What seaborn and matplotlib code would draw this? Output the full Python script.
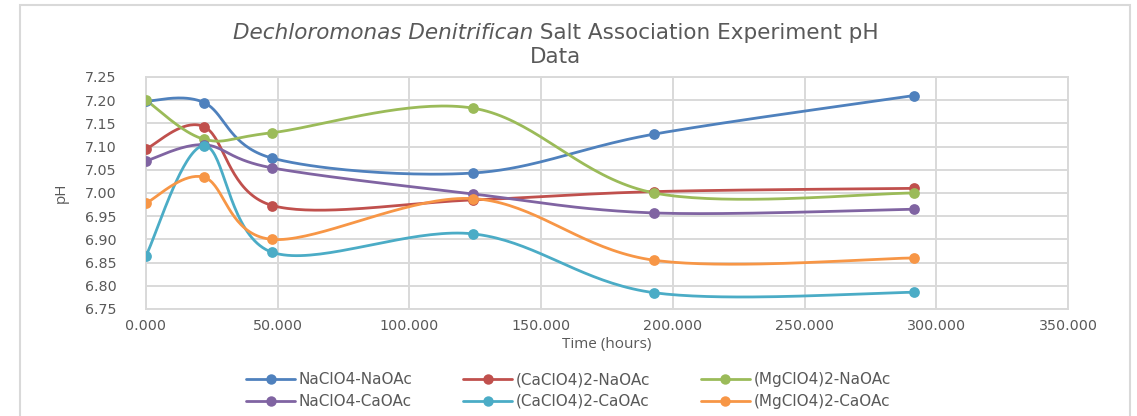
import numpy as np
import pandas as pd
import matplotlib
matplotlib.use("Agg")
import matplotlib.pyplot as plt
import seaborn as sns
from matplotlib.patches import Rectangle

# ---- data ----
time_hours = [0.0, 22.0, 48.0, 124.0, 193.0, 291.5]
series_names = ["NaClO4-NaOAc", "(CaClO4)2-NaOAc", "(MgClO4)2-NaOAc",
                "NaClO4-CaOAc", "(CaClO4)2-CaOAc", "(MgClO4)2-CaOAc"]
ph_naclo4_naoac = [7.198, 7.195, 7.075, 7.043, 7.127, 7.210]
ph_caclo4_naoac = [7.095, 7.143, 6.973, 6.985, 7.003, 7.010]
ph_mgclo4_naoac = [7.200, 7.116, 7.130, 7.183, 7.000, 7.000]
ph_naclo4_caoac = [7.069, 7.104, 7.054, 6.998, 6.957, 6.965]
ph_caclo4_caoac = [6.865, 7.102, 6.872, 6.912, 6.785, 6.786]
ph_mgclo4_caoac = [6.978, 7.034, 6.900, 6.988, 6.855, 6.860]
all_values = [ph_naclo4_naoac, ph_caclo4_naoac, ph_mgclo4_naoac,
              ph_naclo4_caoac, ph_caclo4_caoac, ph_mgclo4_caoac]
colors = ["#4F81BD", "#C0504D", "#9BBB59", "#8064A2", "#4BACC6", "#F79646"]
x_ticks = [0, 50, 100, 150, 200, 250, 300, 350]
y_ticks = [6.75, 6.80, 6.85, 6.90, 6.95, 7.00, 7.05, 7.10, 7.15, 7.20, 7.25]


def smooth(xs, ys, n=40):
    """Excel-like smoothed line: cubic Bezier segments with Catmull-Rom control points."""
    P = np.column_stack([xs, ys]).astype(float)
    Pext = np.vstack([P[0], P, P[-1]])
    out = []
    t = np.linspace(0, 1, n)[:, None]
    for i in range(len(P) - 1):
        p0, p1, p2, p3 = Pext[i], Pext[i + 1], Pext[i + 2], Pext[i + 3]
        c1 = p1 + (p2 - p0) / 6.0
        c2 = p2 - (p3 - p1) / 6.0
        seg = ((1 - t) ** 3) * p1 + 3 * ((1 - t) ** 2) * t * c1 + 3 * (1 - t) * t ** 2 * c2 + t ** 3 * p2
        out.append(seg if i == 0 else seg[1:])
    arr = np.vstack(out)
    return arr[:, 0], arr[:, 1]


sns.set_theme(style="white")
plt.rcParams["font.family"] = ["DejaVu Sans"]

W, H = 1137, 416
fig = plt.figure(figsize=(W / 100, H / 100), dpi=100)
ax = fig.add_axes([146 / W, 1 - 309 / H, (1068 - 146) / W, (309 - 77) / H])

gray_txt = "#595959"
grid_c = "#d9d9d9"

handles = []
for name, vals, c in zip(series_names, all_values, colors):
    sx, sy = smooth(time_hours, vals)
    df_line = pd.DataFrame({"x": sx, "y": sy})
    sns.lineplot(data=df_line, x="x", y="y", sort=False, color=c, linewidth=2.0, ax=ax,
                 estimator=None, zorder=3)
    df_pts = pd.DataFrame({"x": time_hours, "y": vals})
    sns.scatterplot(data=df_pts, x="x", y="y", color=c, s=60, edgecolor=c, linewidth=0, ax=ax, zorder=4)
    handles.append(plt.Line2D([0], [0], color=c, lw=2.0, marker="o", markersize=7.5,
                              markeredgewidth=0, label=name))

ax.set_xlim(0, 350)
ax.set_ylim(6.75, 7.25)
ax.set_xticks(x_ticks)
ax.set_xticklabels([f"{v:.3f}" for v in x_ticks])
ax.set_yticks(y_ticks)
ax.set_yticklabels([f"{v:.2f}" for v in y_ticks])
ax.tick_params(axis="both", length=0, labelsize=10.3, labelcolor=gray_txt)
ax.tick_params(axis="x", pad=7)
ax.tick_params(axis="y", pad=21)
ax.grid(True, color=grid_c, linewidth=1.4)
ax.set_axisbelow(True)
for s in ax.spines.values():
    s.set_color(grid_c)
    s.set_linewidth(1.4)

ax.set_xlabel("Time (hours)", fontsize=11, color=gray_txt, family="Open Sans", labelpad=3)
ax.set_ylabel("pH", fontsize=11, color=gray_txt, family="Open Sans", labelpad=12)

# Legend (row-wise order: 3 columns x 2 rows)
order = [0, 3, 1, 4, 2, 5]
leg = fig.legend(handles=[handles[i] for i in order], loc="upper left",
                 bbox_to_anchor=(240 / W, 1 - 366 / H),
                 ncol=3, frameon=False, fontsize=11, handlelength=3.2, handletextpad=0.25,
                 columnspacing=3.3, labelspacing=0.45, labelcolor=gray_txt,
                 borderaxespad=0)

# Title: italic part + normal part, centered
fig.canvas.draw()
r = fig.canvas.get_renderer()
fs = 15.5
t1 = fig.text(0, 0, "Dechloromonas Denitrifican", fontsize=fs, style="italic",
              family="DejaVu Sans", color=gray_txt)
t2 = fig.text(0, 0, " Salt Association Experiment pH", fontsize=fs,
              family="DejaVu Sans", color=gray_txt)
w1 = t1.get_window_extent(r).width
w2 = t2.get_window_extent(r).width
cx = 556
x0 = cx - (w1 + w2) / 2
ybase = 1 - 39 / H
t1.set_position((x0 / W, ybase))
t2.set_position(((x0 + w1) / W, ybase))
fig.text(cx / W, 1 - 63 / H, "Data", fontsize=fs, family="DejaVu Sans", color=gray_txt, ha="center")

# outer chart frame
fig.add_artist(Rectangle((20 / W, -0.05), (1130 - 20) / W, 1.05 - 5 / H, transform=fig.transFigure,
                         fill=False, edgecolor=grid_c, linewidth=1.5))

fig.savefig("out.png", dpi=100)
